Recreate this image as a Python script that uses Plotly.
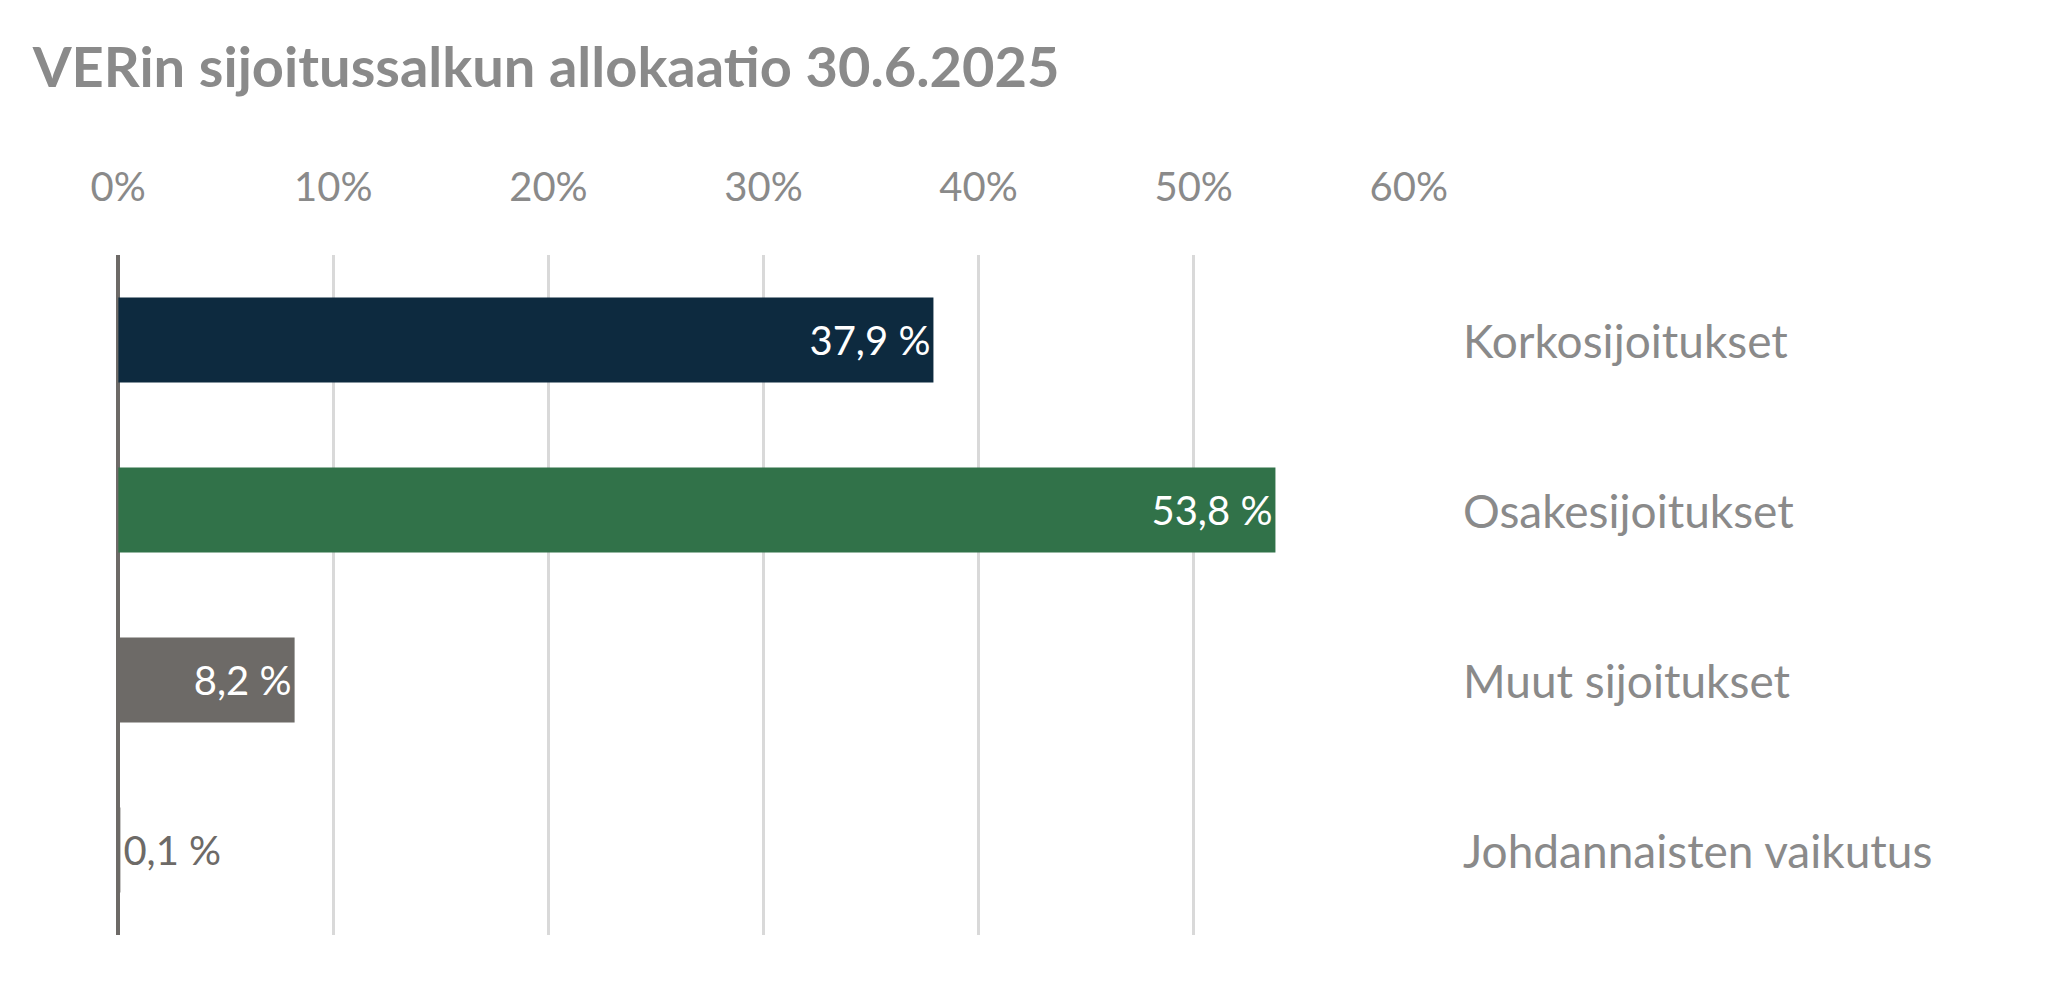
import plotly.graph_objects as go

# allocation data
categories = ['Korkosijoitukset', 'Osakesijoitukset', 'Muut sijoitukset', 'Johdannaisten vaikutus']
values = [37.9, 53.8, 8.2, 0.1]
value_labels = ['37,9 %', '53,8 %', '8,2 %', '0,1 %']
bar_colors = ['#0d2a3f', '#317249', '#6d6a67', '#6d6a67']
tick_vals = [0, 10, 20, 30, 40, 50, 60]
tick_text = ['0%', '10%', '20%', '30%', '40%', '50%', '60%']

font_family = 'Lato, Noto Sans, sans-serif'
grey = '#8a8a8a'

fig = go.Figure()
fig.add_trace(go.Bar(
    x=values, y=categories, orientation='h',
    marker=dict(color=bar_colors, line=dict(width=0)),
    text=value_labels,
    textposition=['inside', 'inside', 'inside', 'outside'],
    insidetextanchor='end',
    textfont=dict(family=font_family, size=40, color=['white', 'white', 'white', '#6d6a67']),
    cliponaxis=False,
    width=0.5,
))

# category names to the right of the plot
for c in categories:
    fig.add_annotation(x=0.7157, xref='paper', y=c, yref='y', text=c, showarrow=False,
                       xanchor='left', font=dict(family=font_family, size=46, color=grey))

fig.update_layout(
    width=2058, height=982,
    paper_bgcolor='white', plot_bgcolor='white',
    margin=dict(l=0, r=0, t=247, b=55),
    showlegend=False,
    title=dict(text='<b>VERin sijoitussalkun allokaatio 30.6.2025</b>', x=0.012, xanchor='left',
               y=0.94, yanchor='middle', font=dict(family=font_family, size=56, color=grey)),
    xaxis=dict(domain=[0.0413, 0.6895], range=[0, 60], side='top', tickvals=tick_vals,
               ticktext=tick_text, showgrid=True, gridcolor='#d9d9d9', gridwidth=3,
               zeroline=True, zerolinecolor='#6d6a67', zerolinewidth=4,
               tickfont=dict(family=font_family, size=40, color=grey), ticklabelstandoff=45),
    yaxis=dict(autorange='reversed', showticklabels=False, showgrid=False, range=[-0.5, 3.5]),
)
fig.write_html('out.html')
